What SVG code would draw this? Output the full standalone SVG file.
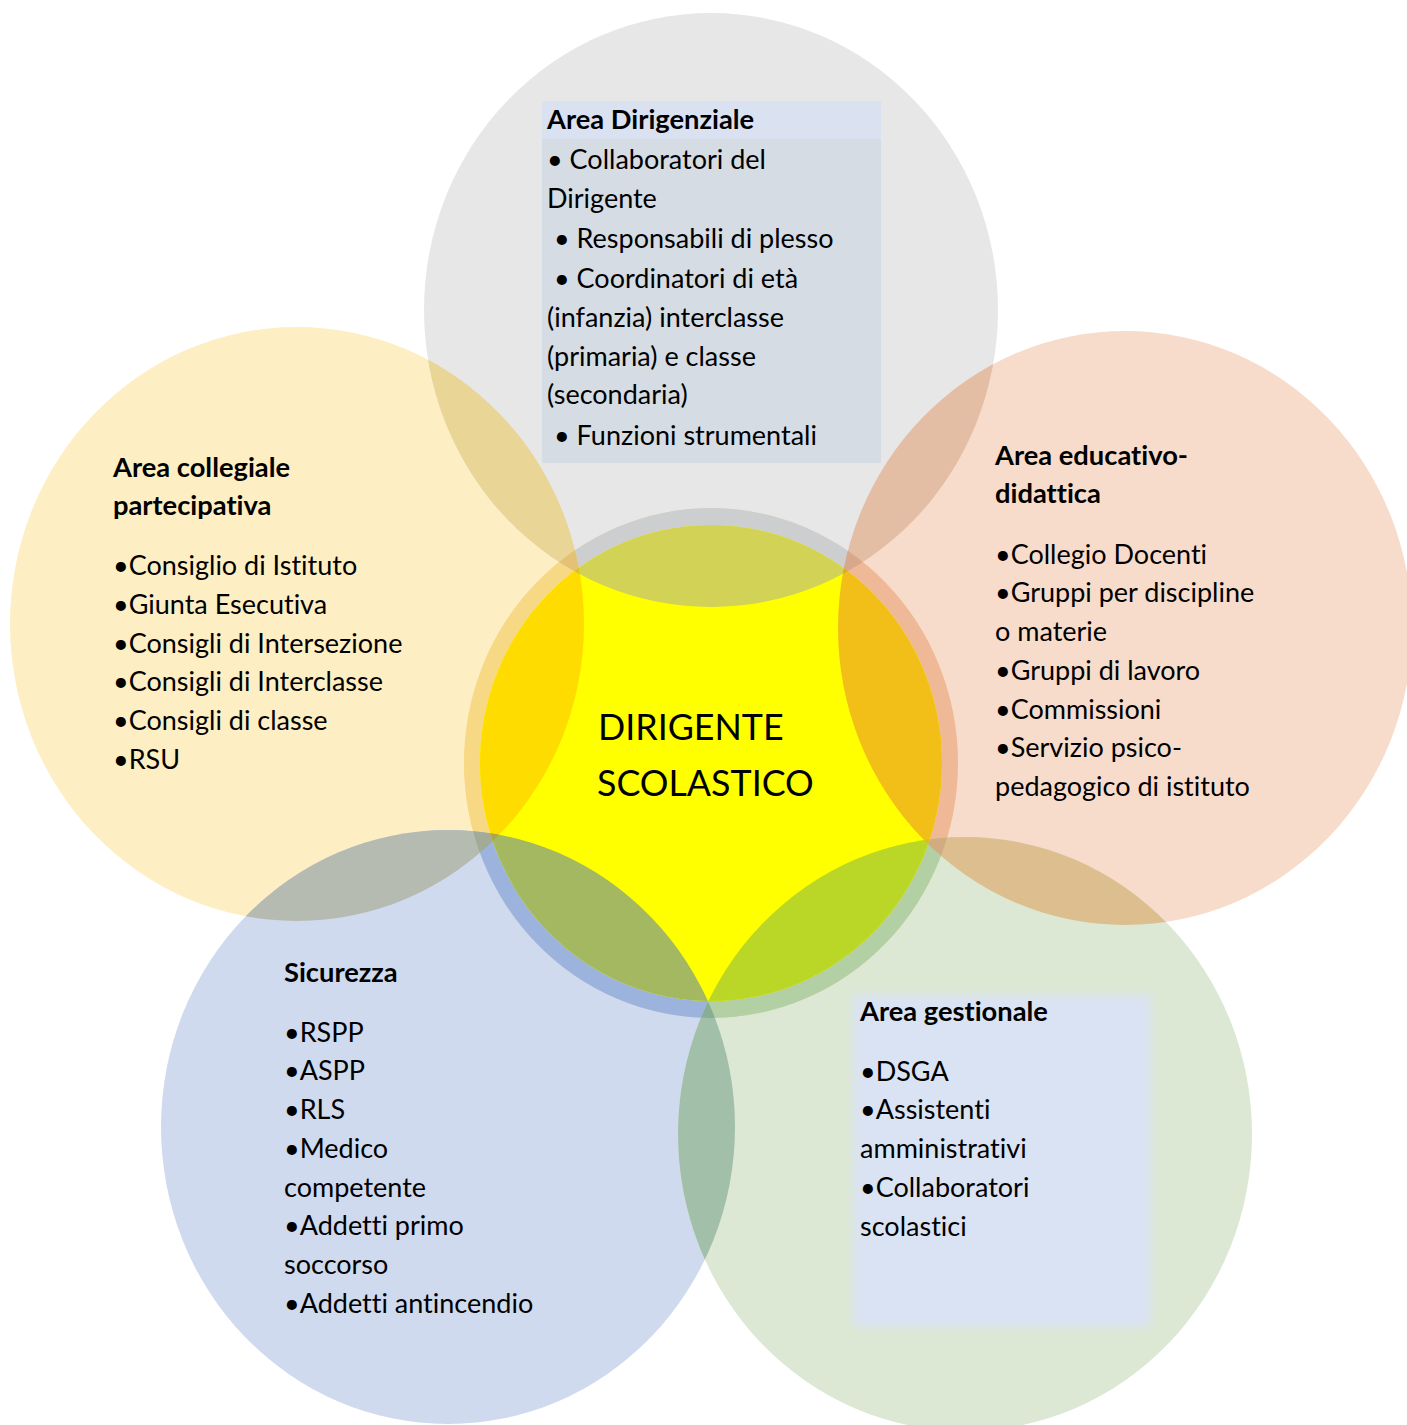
<svg xmlns="http://www.w3.org/2000/svg" xmlns:xlink="http://www.w3.org/1999/xlink" width="1407" height="1425" viewBox="0 0 1407 1425">
<style>
text{font-family:Lato,"Open Sans","Liberation Sans",sans-serif;fill:#000;font-variant-ligatures:none;font-feature-settings:"liga" 0;}
.t{font-size:27px;}
.h{font-size:27.3px;font-weight:bold;}
.c{font-size:35.8px;}
</style>
<defs>
<ellipse id="eG" cx="711" cy="310" rx="287" ry="297"/>
<ellipse id="eY" cx="297" cy="624" rx="287" ry="297"/>
<ellipse id="eP" cx="1125" cy="628" rx="287" ry="297"/>
<ellipse id="eB" cx="448" cy="1127" rx="287" ry="297"/>
<ellipse id="eN" cx="965" cy="1134" rx="287" ry="297"/>
<ellipse id="eCO" cx="711" cy="763" rx="247" ry="255"/>
<ellipse id="eCI" cx="711" cy="763" rx="231" ry="238"/>
<clipPath id="cG"><use xlink:href="#eG"/></clipPath>
<clipPath id="cY"><use xlink:href="#eY"/></clipPath>
<clipPath id="cP"><use xlink:href="#eP"/></clipPath>
<clipPath id="cB"><use xlink:href="#eB"/></clipPath>
<clipPath id="cN"><use xlink:href="#eN"/></clipPath>
<clipPath id="cCO"><use xlink:href="#eCO"/></clipPath>
<clipPath id="cCI"><use xlink:href="#eCI"/></clipPath>
<filter id="soft" x="-10%" y="-10%" width="120%" height="120%"><feGaussianBlur stdDeviation="4"/></filter>
</defs>
<rect width="1407" height="1425" fill="#fff"/>

<g id="node-area-collegiale">
<use xlink:href="#eY" fill="#FEEEC3"/>
<text class="h" x="113" y="477">Area collegiale</text>
<text class="h" x="113" y="515">partecipativa</text>
<text class="t" x="113" y="575">•Consiglio di Istituto</text>
<text class="t" x="113" y="614">•Giunta Esecutiva</text>
<text class="t" x="113" y="653">•Consigli di Intersezione</text>
<text class="t" x="113" y="691">•Consigli di Interclasse</text>
<text class="t" x="113" y="730">•Consigli di classe</text>
<text class="t" x="113" y="769">•RSU</text>
</g>

<g id="node-area-educativo">
<use xlink:href="#eP" fill="#F8DCCB"/>
<text class="h" x="995" y="465">Area educativo-</text>
<text class="h" x="995" y="503">didattica</text>
<text class="t" x="995" y="564">•Collegio Docenti</text>
<text class="t" x="995" y="602">•Gruppi per discipline</text>
<text class="t" x="995" y="641">o materie</text>
<text class="t" x="995" y="680">•Gruppi di lavoro</text>
<text class="t" x="995" y="719">•Commissioni</text>
<text class="t" x="995" y="757">•Servizio psico-</text>
<text class="t" x="995" y="796">pedagogico di istituto</text>
</g>

<g id="node-sicurezza">
<use xlink:href="#eB" fill="#CFDAEE"/>
<text class="h" x="284" y="982">Sicurezza</text>
<text class="t" x="284" y="1042">•RSPP</text>
<text class="t" x="284" y="1080">•ASPP</text>
<text class="t" x="284" y="1119">•RLS</text>
<text class="t" x="284" y="1158">•Medico</text>
<text class="t" x="284" y="1197">competente</text>
<text class="t" x="284" y="1235">•Addetti primo</text>
<text class="t" x="284" y="1274">soccorso</text>
<text class="t" x="284" y="1313">•Addetti antincendio</text>
</g>

<g id="node-area-gestionale">
<use xlink:href="#eN" fill="#DCE8D4"/>
<rect x="853" y="995" width="298" height="332" fill="#DAE3F3" filter="url(#soft)"/>
<text class="h" x="860" y="1021">Area gestionale</text>
<text class="t" x="860" y="1081">•DSGA</text>
<text class="t" x="860" y="1119">•Assistenti</text>
<text class="t" x="860" y="1158">amministrativi</text>
<text class="t" x="860" y="1197">•Collaboratori</text>
<text class="t" x="860" y="1236">scolastici</text>
</g>

<g id="node-area-dirigenziale">
<use xlink:href="#eG" fill="#E7E7E7"/>
<rect x="542" y="101" width="339" height="362" fill="#D6DCE4"/>
<rect x="542" y="101" width="339" height="38" fill="#DAE2F2"/>
<text class="h" x="547" y="129">Area Dirigenziale</text>
<text class="t" x="547" y="169">• Collaboratori del</text>
<text class="t" x="547" y="208">Dirigente</text>
<text class="t" x="554" y="248">• Responsabili di plesso</text>
<text class="t" x="554" y="288">• Coordinatori di età</text>
<text class="t" x="547" y="327">(infanzia) interclasse</text>
<text class="t" x="547" y="366">(primaria) e classe</text>
<text class="t" x="547" y="404">(secondaria)</text>
<text class="t" x="554" y="445">• Funzioni strumentali</text>
</g>

<g id="overlaps">
<g clip-path="url(#cG)"><use xlink:href="#eY" fill="#E9D596"/><use xlink:href="#eP" fill="#E4BEA4"/></g>
<g clip-path="url(#cB)"><use xlink:href="#eY" fill="#B5BBB0"/><use xlink:href="#eN" fill="#A2BFAA"/></g>
<g clip-path="url(#cP)"><use xlink:href="#eN" fill="#DDBE8F"/></g>
</g>

<g id="node-dirigente-scolastico">
<g clip-path="url(#cCO)">
<use xlink:href="#eCO" fill="#F7D885"/>
<use xlink:href="#eG" fill="#CDCECF"/>
<use xlink:href="#eY" fill="#F7D885"/>
<use xlink:href="#eP" fill="#EFB998"/>
<use xlink:href="#eB" fill="#9CB4DD"/>
<use xlink:href="#eN" fill="#B2D0A4"/>
<g clip-path="url(#cG)"><use xlink:href="#eY" fill="#E3C275"/><use xlink:href="#eP" fill="#D9A78B"/></g>
<g clip-path="url(#cB)"><use xlink:href="#eY" fill="#A2AA98"/><use xlink:href="#eN" fill="#88AE98"/></g>
<g clip-path="url(#cP)"><use xlink:href="#eN" fill="#D2AB80"/></g>
</g>
<use xlink:href="#eCI" fill="#FFFF00"/>
<g clip-path="url(#cCI)">
<use xlink:href="#eG" fill="#D2D256"/>
<use xlink:href="#eY" fill="#FFDC00"/>
<use xlink:href="#eP" fill="#F2BE18"/>
<use xlink:href="#eB" fill="#A3B860"/>
<use xlink:href="#eN" fill="#BAD626"/>
<g clip-path="url(#cG)"><use xlink:href="#eY" fill="#D8C030"/><use xlink:href="#eP" fill="#D8A830"/></g>
<g clip-path="url(#cB)"><use xlink:href="#eY" fill="#A8A848"/><use xlink:href="#eN" fill="#90B050"/></g>
<g clip-path="url(#cP)"><use xlink:href="#eN" fill="#D8C020"/></g>
</g>
<text class="c" x="598" y="740">DIRIGENTE</text>
<text class="c" x="597" y="796">SCOLASTICO</text>
</g>

<g id="connectors"/>
</svg>
